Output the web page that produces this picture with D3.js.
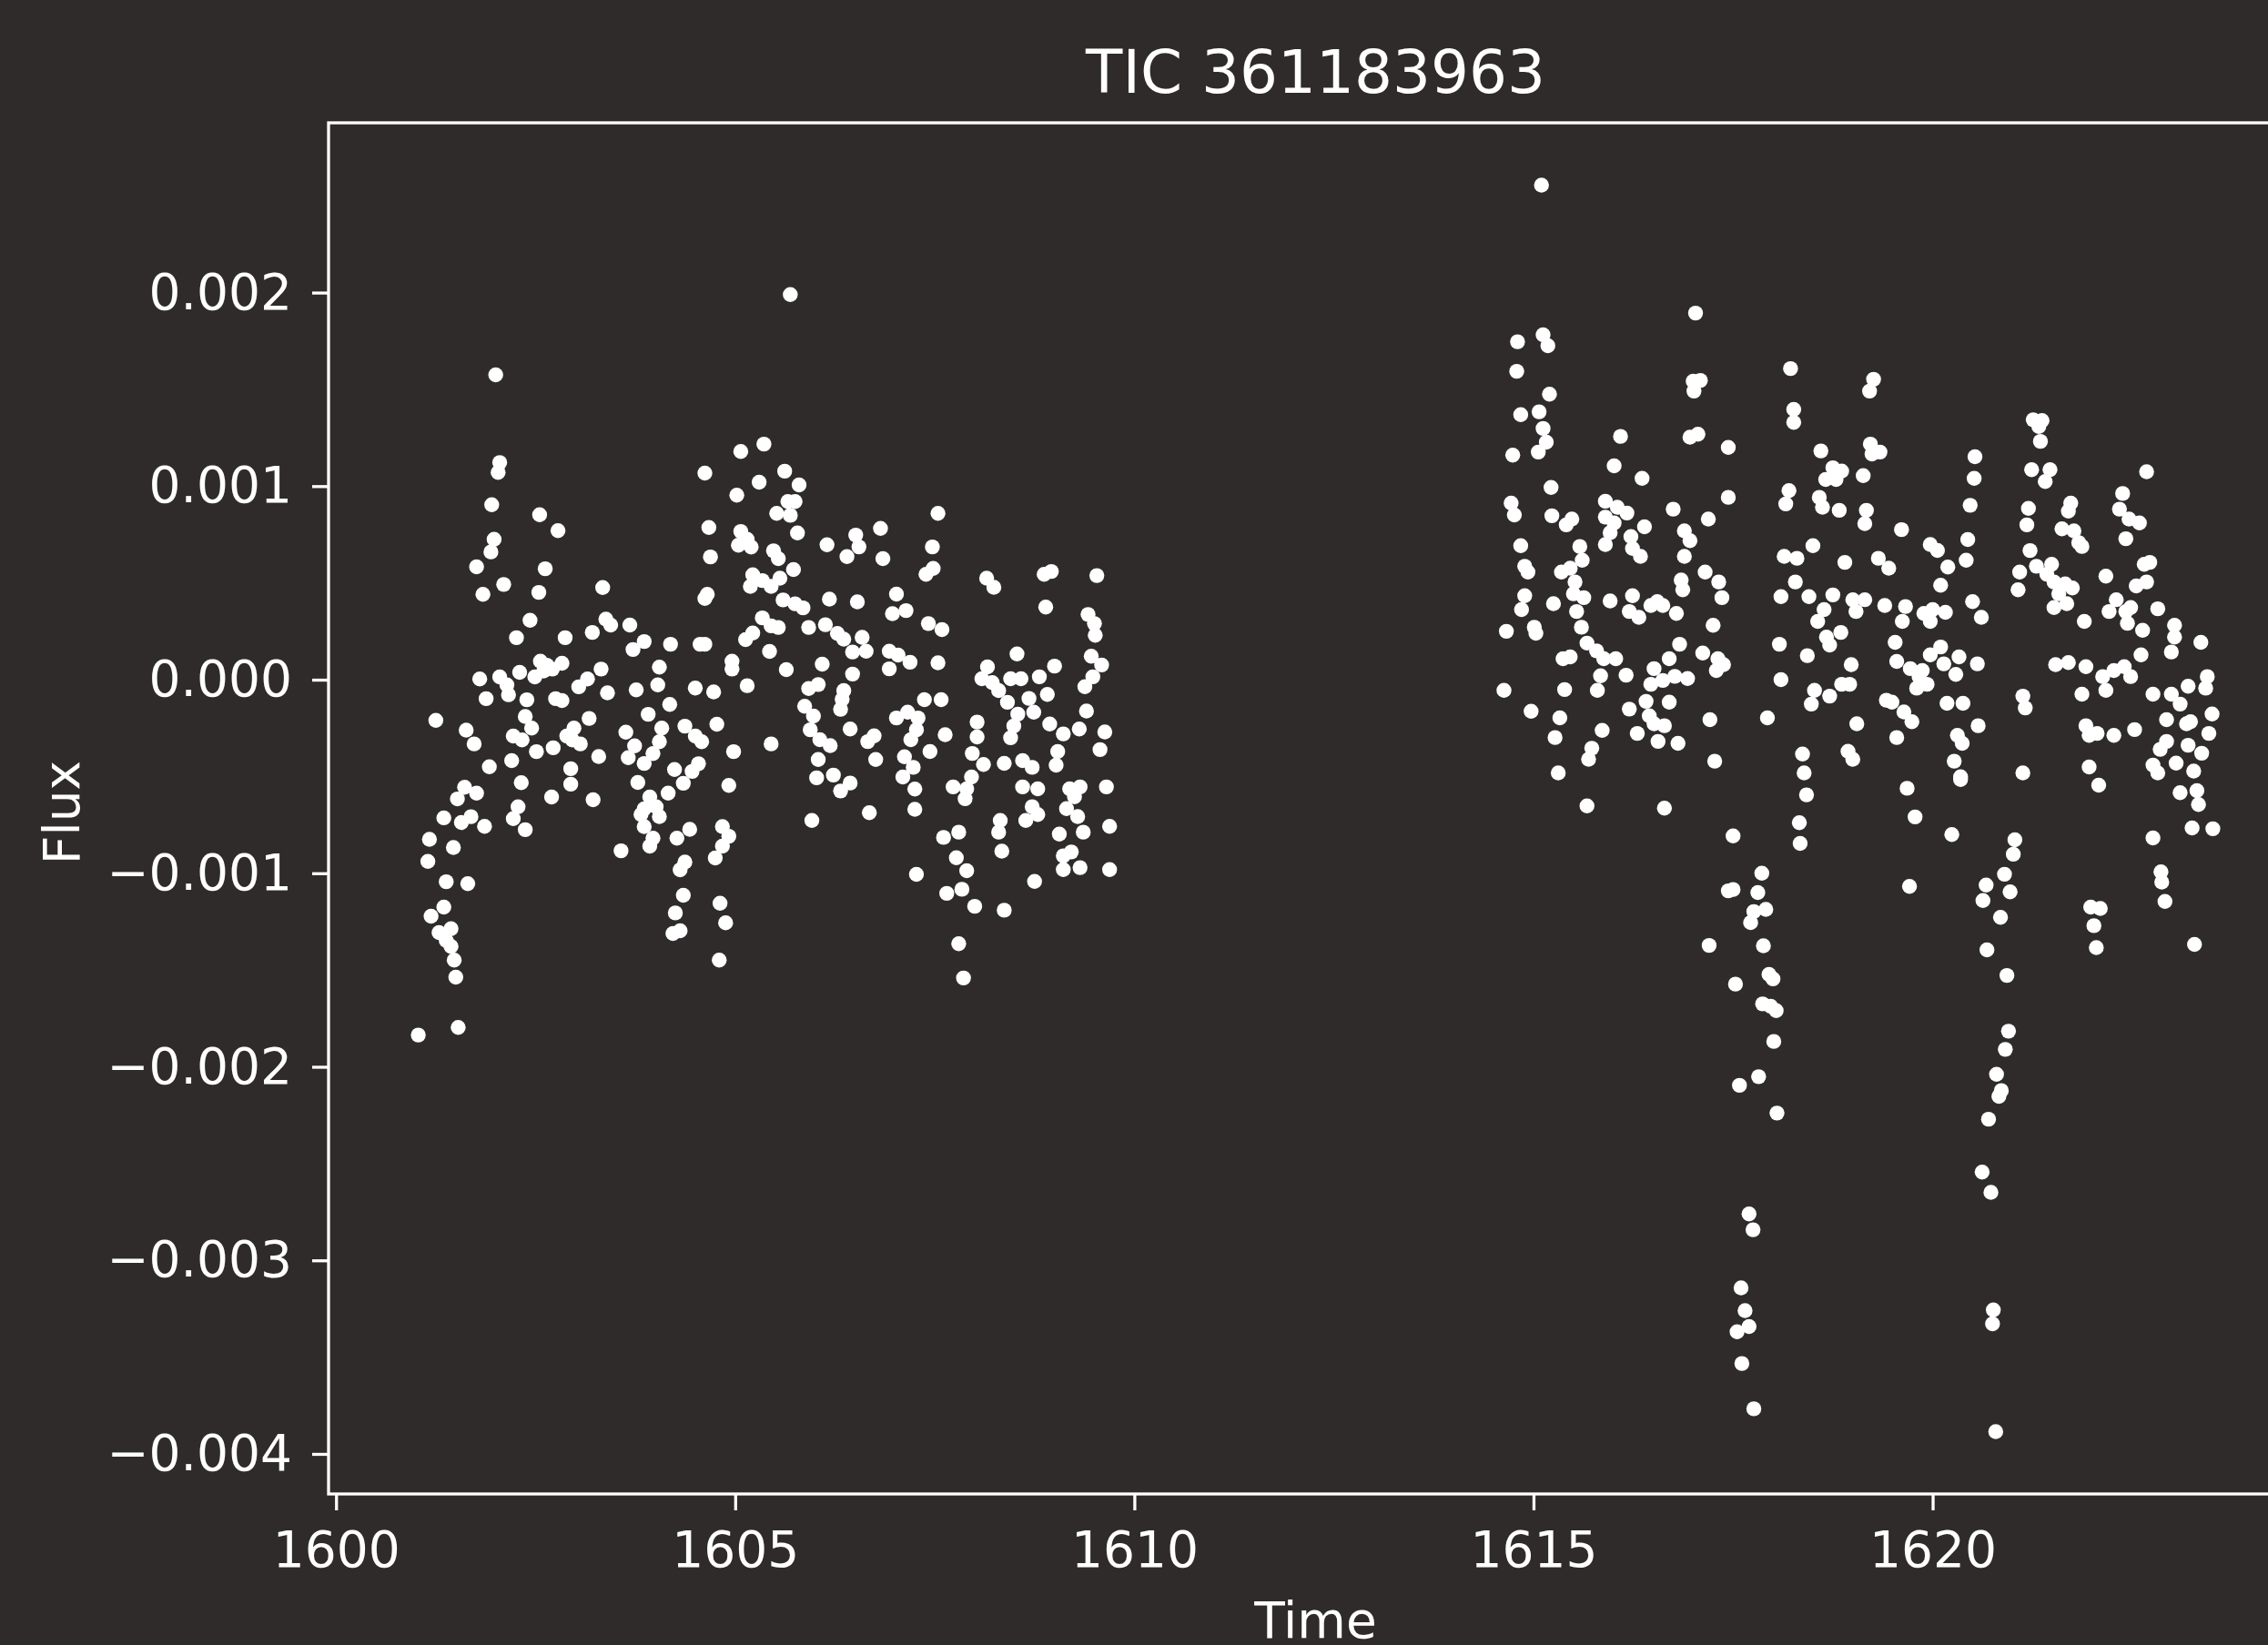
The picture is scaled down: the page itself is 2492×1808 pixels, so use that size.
<!DOCTYPE html>
<html>
<head>
<meta charset="utf-8">
<script src="https://cdn.jsdelivr.net/npm/d3@7"></script>
<style>
  html, body { margin:0; padding:0; background:#2f2b2a; }
  svg { display:block; }
  text { font-family:"DejaVu Sans", sans-serif; fill:#ffffff; }
</style>
</head>
<body>
<div id="chart"></div>
<script>
//Light curve values, flux given in units of 1e-3
//First orbit
var timeA=[
 1602.00,1605.69,1601.03,1601.53,1602.05,1602.03,1601.95,1602.55,1602.78,1601.98,
 1601.94,1601.76,1602.62,1602.10,1601.84,1602.54,1603.34,1602.43,1602.26,1602.87,
 1603.21,1603.38,1603.44,1603.68,1603.86,1603.72,1604.19,1604.56,1604.62,1604.62,
 1605.07,1605.36,1605.30,1605.02,1604.67,1605.07,1605.15,1605.04,1605.20,1604.69,
 1604.65,1604.62,1605.22,1605.19,1605.34,1605.45,1605.34,1605.45,1605.13,1605.22,
 1605.43,1604.96,1604.96,1605.15,1605.45,1601.80,1602.05,1602.14,1602.16,1602.30,
 1602.49,1602.56,1602.64,1602.71,1602.83,1602.60,1603.04,1603.15,1603.32,1601.88,
 1602.39,1602.75,1602.83,1603.40,1603.76,1604.03,1604.05,1604.50,1604.73,1604.18,
 1603.91,1601.25,1601.63,1601.73,1602.37,1602.45,1602.22,1602.33,1602.51,1603.17,
 1602.98,1602.89,1603.06,1602.96,1602.72,1603.29,1603.63,1603.74,1603.66,1603.86,
 1603.97,1604.08,1604.05,1604.37,1604.50,1604.58,1604.77,1604.98,1604.92,1601.92,
 1602.20,1602.32,1602.94,1602.94,1604.24,1604.35,1604.54,1604.46,1603.78,1604.16,
 1601.61,1601.76,1601.52,1602.70,1603.22,1603.93,1603.86,1604.01,1603.82,1604.05,
 1602.28,1602.22,1602.37,1601.35,1601.69,1601.57,1601.86,1601.17,1601.15,1601.47,
 1603.86,1603.97,1603.93,1604.43,1604.27,1604.84,1604.92,1604.84,1604.75,1603.57,
 1604.37,1604.31,1601.38,1601.65,1604.35,1604.81,1604.25,1601.19,1601.35,1604.88,
 1601.29,1601.44,1601.38,1601.44,1604.22,1604.31,1601.48,1601.50,1604.80,
 1605.62,1605.80,1605.66,1605.75,1605.52,1605.69,1605.78,1605.48,1605.54,1605.73,
 1605.56,1606.15,1606.51,1606.55,1606.40,1606.82,1606.85,1607.54,1607.47,1607.39,
 1607.48,1608.15,1608.24,1608.87,1608.96,1608.89,1609.53,1609.42,1609.50,1609.51,
 1605.60,1605.75,1605.85,1605.54,1605.92,1606.13,1606.28,1606.36,1606.18,1606.53,
 1607.02,1606.97,1607.14,1607.42,1607.59,1606.59,1606.64,1606.47,1606.09,1605.64,
 1606.47,1606.93,1607.04,1607.19,1606.93,1607.54,1608.53,1608.16,1608.09,1608.22,
 1608.30,1608.45,1608.58,1608.81,1609.00,1609.46,1609.59,1609.48,1609.38,1605.92,
 1606.04,1606.36,1606.34,1606.32,1605.87,1605.98,1605.94,1606.06,1606.19,1606.44,
 1606.66,1606.74,1606.04,1606.76,1607.37,1607.58,1607.02,1607.16,1607.29,1607.27,
 1607.20,1607.63,1607.44,1607.12,1607.23,1607.10,1607.25,1607.25,1606.02,1606.23,
 1606.32,1606.44,1605.96,1606.68,1607.27,1608.03,1608.03,1607.97,1608.11,1608.41,
 1608.54,1608.49,1608.45,1608.68,1608.74,1608.91,1608.94,1609.40,1609.11,1609.31,
 1609.63,1609.04,1609.02,1608.37,1608.60,1608.72,1609.57,1607.96,1607.90,1607.73,
 1607.88,1608.60,1608.79,1609.19,1609.32,1609.25,1609.65,1608.72,1608.79,1608.64,
 1609.15,1609.29,1609.36,1609.06,1609.69,1608.32,1608.30,1607.61,1607.80,1608.34,
 1607.77,1607.90,1609.11,1609.21,1609.11,1609.32,1609.69,1608.75,1607.65,1607.84,
 1608.00,1608.37,1607.80,1607.86];
var fluxA=[
 1.575,1.990,-1.836,-1.797,1.122,1.071,0.904,0.852,0.770,0.725,
 0.660,0.583,0.573,0.492,0.441,0.451,0.476,0.307,0.217,0.217,
 0.244,0.313,0.282,0.282,0.197,0.156,0.183,0.183,0.183,1.067,
 1.179,1.217,1.020,0.953,0.786,0.766,0.725,0.695,0.685,0.634,
 0.441,0.420,0.542,0.482,0.512,0.482,0.319,0.278,0.207,0.241,
 0.146,0.095,0.055,-0.031,-0.332,0.004,0.014,-0.027,-0.078,0.038,
 0.014,0.095,0.075,0.055,0.085,0.045,-0.037,0.004,0.055,-0.098,
 -0.104,-0.098,-0.108,-0.068,-0.053,-0.027,0.065,-0.043,-0.063,-0.128,
 -0.179,-0.210,-0.261,-0.332,-0.190,-0.250,-0.291,-0.311,-0.372,-0.200,
 -0.250,-0.291,-0.332,-0.311,-0.352,-0.397,-0.271,-0.342,-0.403,-0.433,
 -0.382,-0.250,-0.321,-0.240,-0.291,-0.321,-0.230,-0.372,-0.546,-0.450,
 -0.418,-0.532,-0.460,-0.540,-0.464,-0.535,-0.434,-0.474,-0.531,-0.586,
 -0.556,-0.586,-0.616,-0.606,-0.620,-0.606,-0.667,-0.657,-0.697,-0.707,
 -0.657,-0.718,-0.775,-0.714,-0.708,-0.738,-0.758,-0.825,-0.939,-0.867,
 -0.759,-0.819,-0.860,-0.773,-0.819,-0.759,-0.809,-0.860,-0.921,-0.884,
 -0.942,-0.982,-1.044,-1.054,-1.114,-1.155,-1.205,-1.222,-1.175,-1.256,
 -1.307,-1.287,-1.348,-1.378,-1.311,-1.297,-1.449,-1.537,-1.449,
 1.077,1.006,0.920,0.920,0.859,0.849,0.758,0.666,0.625,0.569,
 0.524,0.697,0.747,0.686,0.636,0.782,0.625,0.859,0.686,0.544,
 0.575,0.524,0.477,0.544,0.559,0.375,0.538,0.337,0.290,0.229,
 0.412,0.392,0.371,0.270,0.270,0.284,0.239,0.209,0.416,0.402,
 0.442,0.341,0.357,0.290,0.259,0.219,0.147,0.143,0.080,0.052,
 0.029,0.147,0.127,0.090,0.056,0.087,0.133,0.066,0.005,-0.015,
 -0.056,0.005,0.005,0.015,0.070,0.121,0.076,0.015,-0.036,-0.046,
 -0.025,-0.056,-0.101,-0.153,-0.137,-0.188,-0.259,-0.310,-0.341,-0.255,
 -0.320,-0.290,-0.412,-0.412,-0.103,-0.103,-0.198,-0.168,-0.198,-0.259,
 -0.310,-0.284,-0.371,-0.398,-0.453,-0.503,-0.565,-0.670,-0.507,-0.493,
 -0.575,-0.534,-0.727,-0.687,-1.006,-0.219,-0.296,-0.381,-0.438,-0.117,
 -0.178,-0.239,-0.300,-0.097,-0.168,-0.076,-0.229,-0.162,-0.280,-0.255,
 -0.270,-0.371,-0.442,-0.432,-0.418,-0.453,-0.361,-0.503,-0.564,-0.554,
 -0.615,-0.554,-0.564,-0.564,-0.554,-0.605,-0.554,-0.656,-0.697,-0.727,
 -0.666,-0.707,-0.788,-0.798,-0.758,-0.727,-0.788,-0.815,-0.788,-0.886,
 -0.920,-0.987,-0.910,-0.890,-0.981,-0.971,-0.981,-1.042,-1.104,-1.083,
 -1.171,-1.191,-1.364,-1.541];

//Second orbit
var timeB=[
 1615.10,1617.03,1614.80,1615.12,1615.18,1614.79,1615.20,1614.84,1615.07,1615.12,
 1615.16,1615.06,1614.74,1617.00,1617.09,1617.01,1616.96,1617.06,1618.22,1618.26,
 1618.26,1617.44,1616.09,1616.01,1616.36,1615.22,1614.72,1614.76,1615.23,1615.41,
 1615.48,1615.90,1616.05,1616.17,1615.90,1616.01,1616.39,1616.75,1617.19,1617.44,
 1615.90,1615.96,1616.22,1616.24,1616.34,1616.89,1616.96,1616.89,1614.84,1615.58,
 1615.61,1614.89,1614.93,1615.35,1615.46,1615.52,1615.50,1615.63,1614.89,1614.85,
 1615.25,1615.54,1615.96,1616.24,1616.20,1616.32,1616.47,1616.62,1616.55,1616.79,
 1616.85,1616.87,1617.15,1617.32,1617.36,1617.25,1614.66,1615.01,1615.03,1615.60,
 1615.67,1615.79,1615.88,1616.03,1615.37,1615.46,1616.83,1617.12,1617.31,1617.38,
 1617.29,1616.70,1615.84,1615.80,1616.16,1616.51,1616.47,1616.62,1616.77,1616.93,
 1614.63,1615.39,1614.97,1616.41,1616.70,1616.20,1615.33,1616.45,1616.51,1616.64,
 1616.56,1616.30,1615.86,1616.81,1617.21,1615.27,1615.73,1615.69,1617.27,1615.31,
 1618.60,1618.75,1618.86,1618.66,1618.79,1618.20,1618.16,1618.58,1618.62,1618.83,
 1618.50,1618.14,1618.30,1618.90,1618.28,1618.10,1618.45,1618.75,1618.64,1618.56,
 1619.00,1619.04,1618.08,1618.43,1618.67,1618.71,1618.85,1618.10,1618.98,1618.52,
 1618.48,1618.71,1618.86,1618.96,1617.93,1619.05,1618.37,1618.39,1618.94,1619.00,
 1619.26,1619.21,1619.22,1619.34,1619.24,1619.13,1619.17,1619.15,1619.61,1619.97,
 1620.06,1619.32,1619.45,1620.19,1620.44,1620.53,1620.52,1620.47,1620.42,1620.10,
 1619.15,1619.40,1619.66,1619.62,1619.89,1620.00,1619.97,1620.16,1620.50,1620.61,
 1619.53,1619.55,1619.72,1619.83,1619.80,1619.93,1619.87,1619.97,1620.10,1620.14,
 1620.33,1620.29,1620.56,1619.42,1619.49,1619.64,1619.74,1620.18,1620.38,1619.55,
 1620.31,1620.37,1620.57,1620.27,1620.35,1621.26,1621.37,1621.33,1621.35,1621.24,
 1621.47,1621.41,1621.20,1621.18,1621.73,1621.70,1621.62,1621.77,1621.83,1621.87,
 1621.22,1621.09,1621.07,1621.30,1621.43,1621.49,1621.52,1621.66,1621.75,1621.58,
 1621.52,1621.68,1622.38,1622.34,1622.46,1622.59,1622.42,1622.68,1622.17,1622.65,
 1622.72,1622.55,1622.68,1622.30,1622.21,1622.42,1622.48,1622.44,1622.82,1622.63,
 1621.90,1623.03,1623.03,1622.99,1623.36,1622.61,1621.54,1621.70,1621.92,1622.13,
 1622.27,1622.40,1622.48,1622.17,1621.87,1621.13,1621.16,1622.76,1622.99,1623.10,
 1623.20,1623.44,1623.42,1623.50,1622.93,1623.18,1623.23,1621.92,1622.06,1621.96,
 1622.27,1622.53,1623.46,1622.93,1622.85,1623.20,1623.37,1621.96,1622.76,1622.82,
 1623.05,1623.27,1621.13,
 1615.67,1616.64,1617.50,1618.42,1618.33,1618.34,1617.86,1617.44,1617.50,1617.81,
 1617.76,1617.91,1617.72,1617.20,1617.88,1617.95,1618.00,1617.53,1617.87,1617.97,
 1618.04,1618.01,1617.58,1617.82,1618.05,1617.70,1617.75,1617.60,1617.65,1617.70,
 1617.55,1617.61,1617.76,
 1619.68,1620.35,1622.08,1623.10,1623.31,1623.33,1619.78,1620.24,1621.03,1621.01,
 1620.90,1620.67,1620.63,1620.97,1620.85,1620.68,1620.93,1619.71,1622.76,1623.25,
 1623.51,1622.86,1622.87,1622.91,1621.98,1622.10,1622.02,1622.05,1623.28,1620.95,
 1620.91,1620.80,1620.86,1620.83,1620.70,1620.62,1620.73,1620.76,1620.75,1620.79];
var fluxB=[
 2.555,1.894,1.746,1.782,1.725,1.593,1.475,1.369,1.384,1.298,
 1.227,1.176,1.160,1.542,1.546,1.491,1.253,1.268,1.607,1.396,
 1.329,1.200,1.257,1.105,1.040,0.993,0.912,0.851,0.847,0.800,
 0.830,0.922,0.891,0.861,0.840,0.810,0.790,0.881,0.830,0.942,
 0.698,0.759,0.739,0.678,0.637,0.769,0.718,0.637,0.692,0.688,
 0.617,0.586,0.556,0.556,0.576,0.505,0.444,0.424,0.434,0.362,
 0.393,0.352,0.407,0.434,0.352,0.322,0.383,0.383,0.403,0.342,
 0.515,0.464,0.556,0.505,0.424,0.281,0.250,0.271,0.240,0.271,
 0.189,0.149,0.108,0.108,0.108,0.118,0.183,0.138,0.108,0.078,
 0.047,0.108,0.020,-0.055,0.023,0.057,-0.024,-0.004,0.017,0.006,
 -0.055,-0.051,-0.163,-0.112,-0.116,-0.152,-0.197,-0.187,-0.228,-0.238,
 -0.319,-0.278,-0.262,-0.329,-0.207,-0.299,-0.354,-0.411,-0.421,-0.482,
 1.182,1.095,1.078,1.034,1.034,0.977,0.908,0.942,0.891,0.875,
 0.692,0.637,0.627,0.606,0.505,0.429,0.429,0.438,0.362,0.301,
 0.413,0.352,0.183,0.124,0.220,0.179,0.244,0.000,0.078,-0.055,
 -0.126,-0.085,-0.024,-0.024,-0.197,-0.228,-0.384,-0.482,-0.370,-0.411,
 1.552,1.491,1.217,1.176,1.166,1.054,0.875,0.806,0.775,0.698,
 0.668,0.627,0.576,0.582,0.724,1.152,1.040,0.901,0.617,0.488,
 0.413,0.383,0.378,0.301,0.342,0.362,0.301,0.348,0.403,0.322,
 0.193,0.094,0.057,0.016,-0.044,-0.024,0.047,0.128,0.169,0.082,
 0.118,0.027,0.082,-0.106,-0.116,-0.167,-0.217,-0.122,-0.122,-0.299,
 -0.288,-0.329,-0.238,-0.421,-0.502,1.343,1.339,1.308,1.231,1.085,
 1.085,1.024,0.885,0.800,0.912,0.871,0.779,0.769,0.708,0.688,
 0.667,0.556,0.464,0.586,0.545,0.596,0.505,0.495,0.474,0.444,
 0.373,0.393,0.962,0.881,0.830,0.810,0.728,1.074,0.535,0.596,
 0.606,0.484,0.505,0.413,0.352,0.352,0.373,0.291,0.366,0.255,
 0.301,0.281,0.220,0.143,0.193,0.128,0.078,0.088,0.067,0.016,
 0.047,0.067,0.016,-0.055,-0.075,-0.085,-0.146,-0.075,-0.075,-0.126,
 -0.034,0.016,-0.044,-0.177,-0.207,-0.228,-0.217,-0.238,-0.278,-0.288,
 -0.288,-0.258,-0.278,-0.319,-0.360,-0.339,-0.380,-0.451,-0.441,-0.482,
 -0.431,-0.472,-0.482,
 -0.652,-0.664,-0.807,-0.595,-0.739,-0.846,-1.000,-1.091,-1.084,-1.100,
 -1.198,-1.187,-1.255,-1.373,-1.375,-1.523,-1.546,-1.573,-1.675,-1.687,
 -1.710,-1.869,-2.096,-2.051,-2.239,-2.760,-2.842,-3.142,-3.260,-3.342,
 -3.369,-3.533,-3.767,
 -0.561,-0.516,-0.545,-0.584,-0.573,-0.645,-0.709,-0.800,-0.827,-0.902,
 -1.005,-1.061,-1.141,-1.096,-1.228,-1.396,-1.528,-1.068,-0.818,-0.766,
 -0.770,-0.993,-1.046,-1.146,-1.175,-1.182,-1.271,-1.384,-1.368,-1.816,
 -1.910,-2.039,-2.123,-2.153,-2.271,-2.544,-2.649,-3.256,-3.328,-3.885];

var yTicks=[-0.004,-0.003,-0.002,-0.001,0,0.001,0.002];
var title="TIC 361183963";
var xLabel="Time";
var yLabel="Flux";

var w=2492
var h=1808
var plotLeft=361, plotTop=135, plotRight=2530, plotBottom=1642
var ink="#ffffff"

//Build point table, flux back to plain units
var points=d3.zip(timeA,fluxA).concat(d3.zip(timeB,fluxB))
             .map(function(d) {return {time:d[0],flux:d[1]*1e-3};});

var svg=d3.select("#chart")
          .append("svg")
          .attr("width",w)
          .attr("height",h)
          .style("background","#2f2b2a");

//Domains padded 5% like matplotlib autoscale
var xExt=d3.extent(points,function(d) {return d.time;});
var yExt=d3.extent(points,function(d) {return d.flux;});
var xPad=(xExt[1]-xExt[0])*0.05;
var yPad=(yExt[1]-yExt[0])*0.05;

var xScale=d3.scaleLinear()
             .domain([xExt[0]-xPad,xExt[1]+xPad])
             .range([plotLeft,plotRight]);

var yScale=d3.scaleLinear()
             .domain([yExt[0]-yPad,yExt[1]+yPad])
             .range([plotBottom,plotTop]);

//Draw points
svg.append("g")
   .attr("class","points")
   .selectAll("circle")
   .data(points)
   .enter()
   .append("circle")
   .attr("cx",function(d) {return xScale(d.time);})
   .attr("cy",function(d) {return yScale(d.flux);})
   .attr("r",8.2)
   .attr("fill",ink);

//Axes
var xAxis=d3.axisBottom(xScale)
            .ticks(5)
            .tickFormat(d3.format("d"))
            .tickSize(18)
            .tickSizeOuter(0)
            .tickPadding(23);

var yAxis=d3.axisLeft(yScale)
            .tickValues(yTicks)
            .tickFormat(d3.format(".3f"))
            .tickSize(18)
            .tickSizeOuter(0)
            .tickPadding(22);

svg.append("g")
   .attr("class","axis")
   .attr("transform","translate(0,"+plotBottom+")")
   .call(xAxis);

svg.append("g")
   .attr("class","axis")
   .attr("transform","translate("+plotLeft+",0)")
   .call(yAxis);

svg.selectAll(".axis .domain").remove();
svg.selectAll(".axis line")
   .attr("stroke",ink)
   .attr("stroke-width",3.3);
svg.selectAll(".axis text")
   .attr("fill",ink)
   .style("font-family","DejaVu Sans")
   .style("font-size","55px");

//Axes frame
svg.append("rect")
   .attr("x",plotLeft)
   .attr("y",plotTop)
   .attr("width",plotRight-plotLeft)
   .attr("height",plotBottom-plotTop)
   .attr("fill","none")
   .attr("stroke",ink)
   .attr("stroke-width",3.3);

//Title and axis labels
var cx=(plotLeft+plotRight)/2;
svg.append("text")
   .attr("x",cx)
   .attr("y",102)
   .attr("text-anchor","middle")
   .style("font-size","66px")
   .text(title);

svg.append("text")
   .attr("x",cx)
   .attr("y",1800)
   .attr("text-anchor","middle")
   .style("font-size","55px")
   .text(xLabel);

svg.append("text")
   .attr("transform","translate(87,893) rotate(-90)")
   .attr("text-anchor","middle")
   .style("font-size","55px")
   .text(yLabel);
</script>
</body>
</html>
